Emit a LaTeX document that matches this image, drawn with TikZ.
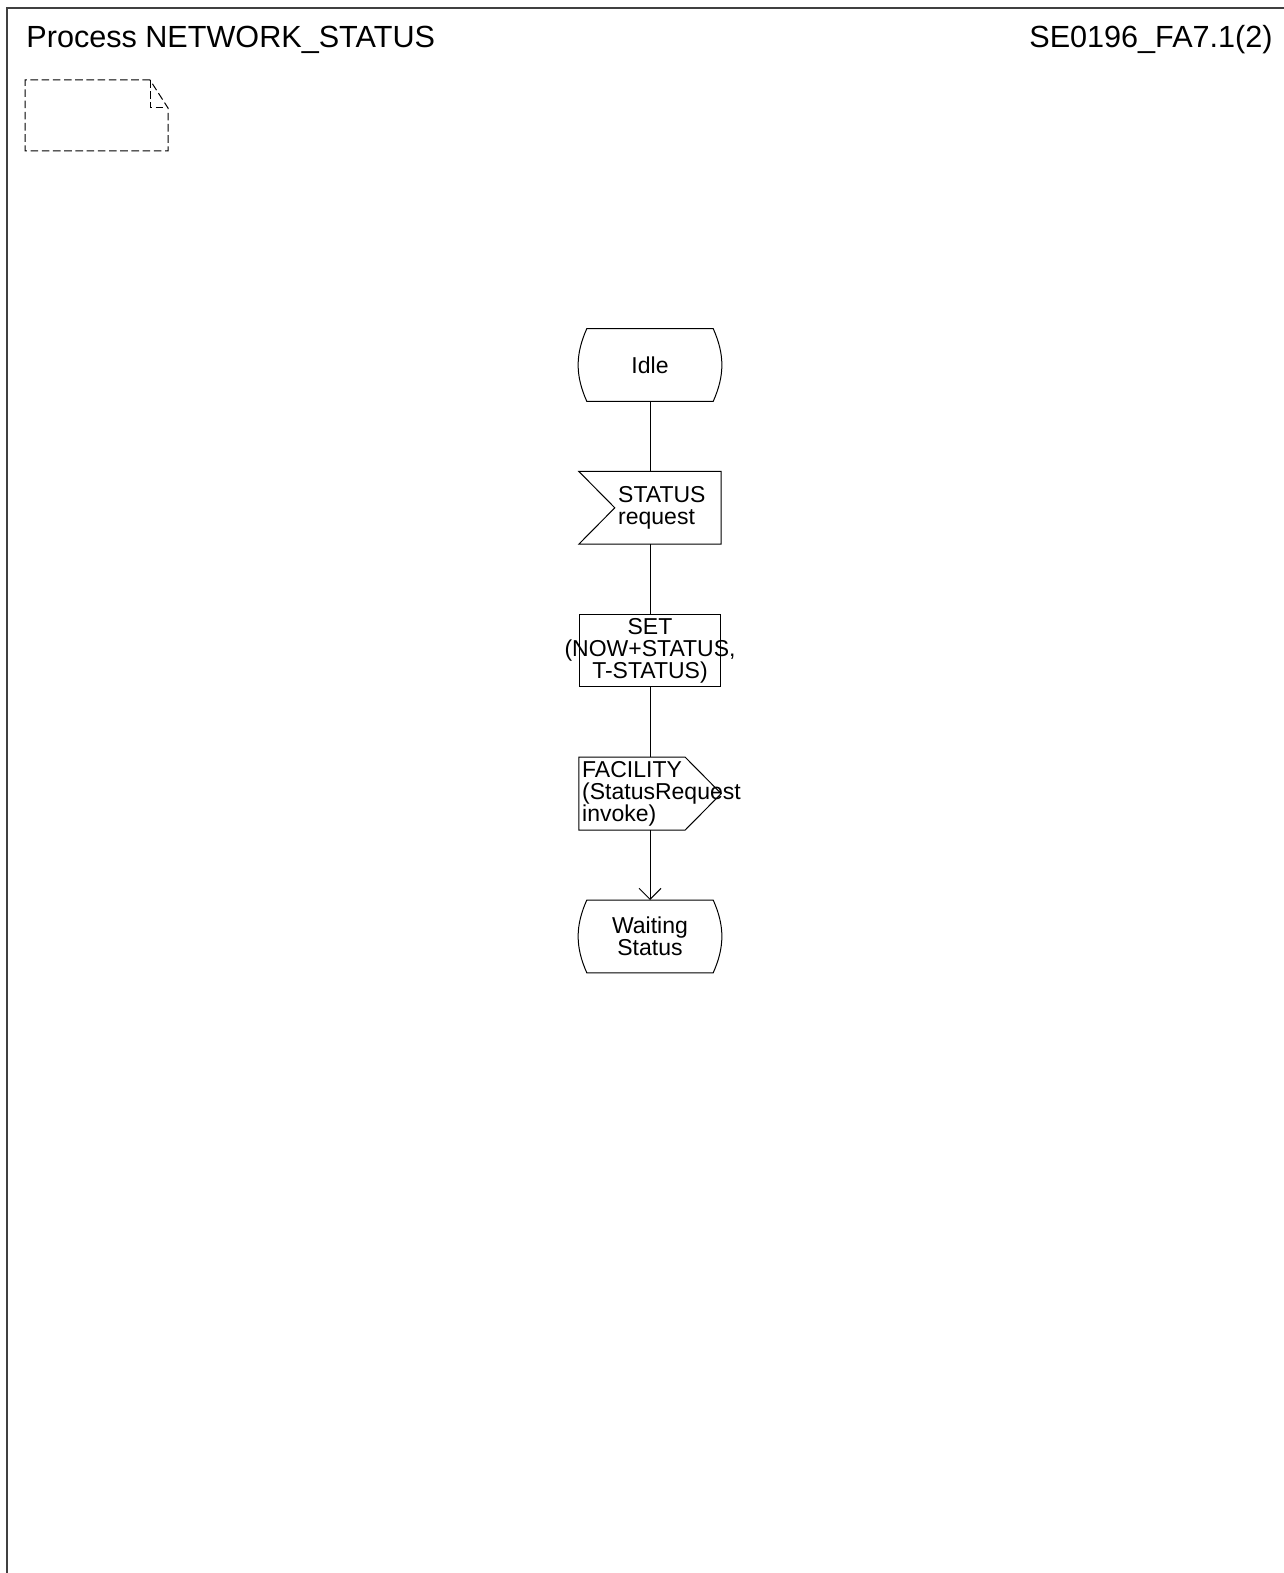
\documentclass[tikz,border=0pt]{standalone}
\usepackage{fontspec}
\setmainfont{Liberation Sans}
\usetikzlibrary{positioning,arrows.meta}

\tikzstyle{every node}=[text centered, font=\fontsize{11.5}{11}\selectfont, inner sep=0pt]
\tikzstyle{sdlbox}=[minimum width=70.8pt, minimum height=36pt]
\tikzstyle{sdlline}=[line width=0.5pt]

\newcommand{\sdlstate}[1]{%
  \draw[sdlline] ([xshift=4pt]#1.north west) -- ([xshift=-4pt]#1.north east)
    to[bend left=24] ([xshift=-4pt]#1.south east) -- ([xshift=4pt]#1.south west)
    to[bend left=24] cycle;}

\begin{document}
\begin{tikzpicture}[x=0.5pt, y=-0.5pt, node distance=35pt]
  \useasboundingbox (0,0) rectangle (1284,1573);

  \draw[line width=1pt, black!75] (7,1573) -- (7,8) -- (1284,8);
  \node[anchor=base west, font=\fontsize{15.3}{18}\selectfont] (title) at (26,48) {Process NETWORK\_STATUS};
  \node[anchor=base east, font=\fontsize{15.3}{18}\selectfont] (pageref) at (1273,48) {SE0196\_FA7.1(2)};

  \draw[sdlline, dash pattern=on 3.8pt off 1.8pt] (150,80) -- (25,80) -- (25,151) -- (168,151) -- (168,108) -- cycle;
  \draw[sdlline, dash pattern=on 3.8pt off 1.8pt] (150,80) -- (150,108) -- (168,108);

  \node[sdlbox] (idle) at (650,365) {Idle};
  \node[sdlbox, below=of idle] (req) {};
  \node[anchor=west, align=left] (reqtext) at ([xshift=19.5pt]req.west) {STATUS\\request};
  \node[sdlbox, draw, sdlline, below=of req] (set) {};
  \node[align=center] (settext) at (set) {SET\\(NOW+STATUS,\\T-STATUS)};
  \node[sdlbox, below=of set] (fac) {};
  \node[anchor=west, align=left] (factext) at ([xshift=1.5pt]fac.west) {FACILITY\\(StatusRequest\\invoke)};
  \node[sdlbox, align=center, below=of fac] (wait) {Waiting\\Status};

  \sdlstate{idle}
  \sdlstate{wait}
  \draw[sdlline] (req.north west) -- (req.north east) -- (req.south east) -- (req.south west)
    -- ([xshift=18pt]req.west) -- cycle;
  \draw[sdlline] (fac.north west) -- ([xshift=-18pt]fac.north east) -- (fac.east)
    -- ([xshift=-18pt]fac.south east) -- (fac.south west) -- cycle;

  \draw[sdlline] (idle) -- (req);
  \draw[sdlline] (req) -- (set);
  \draw[sdlline] (set) -- (fac);
  \draw[sdlline, -{Straight Barb[length=5.5pt, width=11pt]}] (fac) -- (wait);
\end{tikzpicture}
\end{document}
